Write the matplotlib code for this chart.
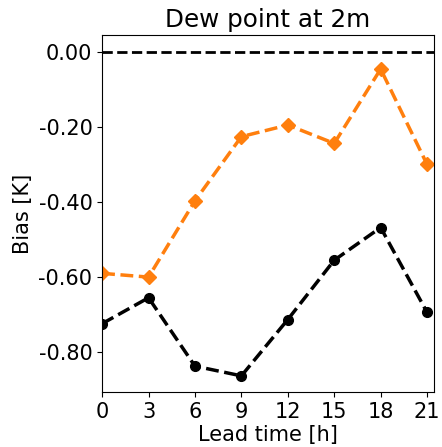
import matplotlib
matplotlib.use("Agg")
import matplotlib.pyplot as plt
from matplotlib.ticker import FormatStrFormatter

# Bias of 2m dew point per lead time
lead_time = [0, 3, 6, 9, 12, 15, 18, 21]
bias_orange = [-0.59, -0.60, -0.397, -0.226, -0.195, -0.244, -0.046, -0.30]
bias_black = [-0.724, -0.655, -0.837, -0.863, -0.713, -0.555, -0.468, -0.694]

fig = plt.figure(figsize=(4.42, 4.47), dpi=100)
ax = fig.add_axes([0.231, 0.123, 0.751, 0.799])

ax.plot(lead_time, bias_orange, color="#ff7f0e", linestyle="--", linewidth=2.5,
        marker="D", markersize=7)
ax.plot(lead_time, bias_black, color="black", linestyle="--", linewidth=2.5,
        marker="o", markersize=7)
ax.axhline(0.0, color="black", linestyle="--", linewidth=2)

ax.set_xlim(0, 21.45)
ax.set_ylim(-0.906, 0.045)
ax.set_xticks(lead_time)
ax.set_yticks([0.0, -0.2, -0.4, -0.6, -0.8])
ax.yaxis.set_major_formatter(FormatStrFormatter("%.2f"))
ax.tick_params(labelsize=15)

ax.set_xlabel("Lead time [h]", fontsize=15, labelpad=2)
ax.set_ylabel("Bias [K]", fontsize=15)
ax.set_title("Dew point at 2m", fontsize=17.7)

fig.savefig("out.png", dpi=100)
